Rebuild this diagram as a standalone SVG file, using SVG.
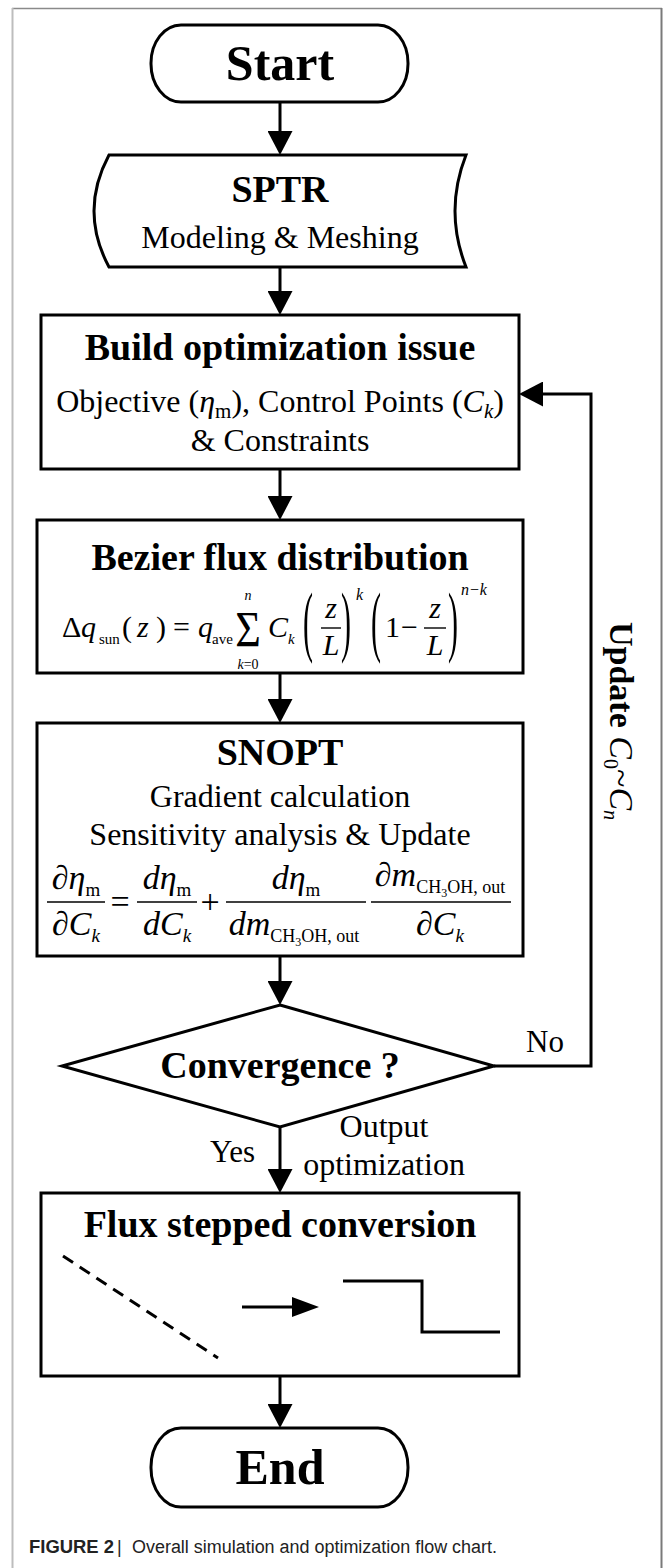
<svg xmlns="http://www.w3.org/2000/svg" width="663" height="1568" viewBox="0 0 663 1568">
  <style>
    .t { font-family: "Liberation Serif", "Times New Roman", serif; fill: #000; }
    .b { font-weight: bold; }
    .i { font-style: italic; }
    .c { text-anchor: middle; }
    .shape { fill: #fff; stroke: #000; stroke-width: 3; }
    .wire { fill: none; stroke: #000; stroke-width: 3; }
    .bar { stroke: #000; stroke-width: 1.4; }
    .cap { font-family: "Liberation Sans Narrow", "Liberation Sans", Arial, sans-serif; fill: #222; font-size: 18px; }
  </style>
  <defs>
    <marker id="ah" viewBox="0 0 24 25" refX="14" refY="12.5" markerWidth="24" markerHeight="25" markerUnits="userSpaceOnUse" orient="auto">
      <path d="M0,0 L24,12.5 L0,25 Z" fill="#000"/>
    </marker>
  </defs>

  <rect width="663" height="1568" fill="#fff"/>

  <!-- page frame -->
  <g id="frame" fill="none">
    <line x1="12" y1="8.5" x2="662" y2="8.5" stroke="#8a8a8a" stroke-width="1.5"/>
    <line x1="12.5" y1="8" x2="12.5" y2="1568" stroke="#bdbdbd" stroke-width="2"/>
    <line x1="661.5" y1="8" x2="661.5" y2="1568" stroke="#7a7a7a" stroke-width="2"/>
  </g>

  <!-- connectors -->
  <g id="connectors" class="wire">
    <path d="M280,102 V145" marker-end="url(#ah)"/>
    <path d="M280,267 V305" marker-end="url(#ah)"/>
    <path d="M280,469 V510" marker-end="url(#ah)"/>
    <path d="M280,673 V713" marker-end="url(#ah)"/>
    <path d="M280,956 V995" marker-end="url(#ah)"/>
    <path d="M280,1127 V1183" marker-end="url(#ah)"/>
    <path d="M280,1376 V1418" marker-end="url(#ah)"/>
    <path d="M494,1066 H591 V394 H529" marker-end="url(#ah)"/>
  </g>

  <!-- start -->
  <g id="start">
    <rect class="shape" x="151" y="25" width="257" height="77" rx="30" ry="38"/>
    <text class="t b c" x="280" y="80" font-size="50">Start</text>
  </g>

  <!-- SPTR model input -->
  <g id="sptr">
    <path class="shape" d="M109,155 L466,155 Q444,211 466,267 L109,267 Q79,211 109,155 Z"/>
    <text class="t b c" x="280" y="202" font-size="38">SPTR</text>
    <text class="t c" x="280" y="248" font-size="32">Modeling &amp; Meshing</text>
  </g>

  <!-- optimization problem setup -->
  <g id="build">
    <rect class="shape" x="41" y="315" width="478" height="154"/>
    <text class="t b c" x="280" y="360" font-size="38">Build optimization issue</text>
    <text class="t c" x="280" y="412" font-size="32">Objective (<tspan class="i">η</tspan><tspan font-size="21" dy="6">m</tspan><tspan dy="-6">), Control Points (</tspan><tspan class="i">C</tspan><tspan class="i" font-size="21" dy="6">k</tspan><tspan dy="-6">)</tspan></text>
    <text class="t c" x="280" y="451" font-size="32">&amp; Constraints</text>
  </g>

  <!-- Bezier flux distribution -->
  <g id="bezier">
    <rect class="shape" x="37" y="520" width="486" height="153"/>
    <text class="t b c" x="280" y="570" font-size="38">Bezier flux distribution</text>
    <g class="t" font-size="30">
      <text x="62" y="637">Δ</text>
      <text class="i" x="81" y="637">q</text>
      <text x="99" y="644" font-size="15">sun</text>
      <text x="122" y="637">(</text>
      <text class="i" x="137" y="637">z</text>
      <text x="156" y="637">)</text>
      <text x="173" y="637">=</text>
      <text class="i" x="198" y="637">q</text>
      <text x="212" y="644" font-size="15">ave</text>
      <text class="c" transform="translate(248,646) scale(1,1.15)" font-size="44">Σ</text>
      <text class="i c" x="248" y="600" font-size="14">n</text>
      <text class="c" x="248" y="669" font-size="14"><tspan class="i">k</tspan>=0</text>
      <text class="i" x="268" y="637">C</text>
      <text class="i" x="288" y="644" font-size="15">k</text>
      <text transform="translate(303,647) scale(1,2.6)">(</text>
      <text class="i c" x="331" y="618">z</text>
      <line class="bar" x1="321" y1="628" x2="341" y2="628"/>
      <text class="i c" x="331" y="655">L</text>
      <text transform="translate(341,647) scale(1,2.6)">)</text>
      <text class="i" x="356" y="600" font-size="16">k</text>
      <text transform="translate(371,647) scale(1,2.6)">(</text>
      <text x="385" y="637">1</text>
      <text x="401" y="637">−</text>
      <text class="i c" x="435" y="618">z</text>
      <line class="bar" x1="424" y1="628" x2="446" y2="628"/>
      <text class="i c" x="435" y="655">L</text>
      <text transform="translate(448,647) scale(1,2.6)">)</text>
      <text class="i" x="461" y="595" font-size="16">n−k</text>
    </g>
  </g>

  <!-- SNOPT solver -->
  <g id="snopt">
    <rect class="shape" x="37" y="723" width="486" height="233"/>
    <text class="t b c" x="280" y="765" font-size="38">SNOPT</text>
    <text class="t c" x="280" y="807" font-size="32">Gradient calculation</text>
    <text class="t c" x="280" y="845" font-size="32">Sensitivity analysis &amp; Update</text>
    <g class="t" font-size="34">
      <text class="c" x="76" y="889"><tspan class="i">∂η</tspan><tspan font-size="19" dy="7">m</tspan></text>
      <line class="bar" x1="47" y1="902" x2="105" y2="902"/>
      <text class="c" x="76" y="935"><tspan class="i">∂C</tspan><tspan class="i" font-size="19" dy="7">k</tspan></text>
      <text class="c" x="120" y="913">=</text>
      <text class="c" x="167" y="889"><tspan class="i">dη</tspan><tspan font-size="19" dy="7">m</tspan></text>
      <line class="bar" x1="137" y1="902" x2="197" y2="902"/>
      <text class="c" x="167" y="935"><tspan class="i">dC</tspan><tspan class="i" font-size="19" dy="7">k</tspan></text>
      <text class="c" x="210" y="913">+</text>
      <text class="c" x="296" y="889"><tspan class="i">dη</tspan><tspan font-size="19" dy="7">m</tspan></text>
      <line class="bar" x1="226" y1="902" x2="366" y2="902"/>
      <text class="c" x="294" y="935"><tspan class="i">dm</tspan><tspan font-size="18" dy="7">CH</tspan><tspan font-size="12" dy="4">3</tspan><tspan font-size="18" dy="-4">OH, out</tspan></text>
      <text class="c" x="440" y="886"><tspan class="i">∂m</tspan><tspan font-size="18" dy="7">CH</tspan><tspan font-size="12" dy="4">3</tspan><tspan font-size="18" dy="-4">OH, out</tspan></text>
      <line class="bar" x1="371" y1="902" x2="511" y2="902"/>
      <text class="c" x="440" y="935"><tspan class="i">∂C</tspan><tspan class="i" font-size="19" dy="7">k</tspan></text>
    </g>
  </g>

  <!-- convergence decision -->
  <g id="convergence">
    <polygon class="shape" points="280,1005 494,1066 280,1127 62,1066"/>
    <text class="t b c" x="280" y="1078" font-size="38">Convergence ?</text>
    <text class="t" x="526" y="1052" font-size="31">No</text>
    <text class="t" x="210" y="1162" font-size="31">Yes</text>
    <text class="t c" x="384" y="1137" font-size="32">Output</text>
    <text class="t c" x="384" y="1175" font-size="32">optimization</text>
  </g>

  <!-- loop label -->
  <g id="update-label">
    <text class="t" transform="translate(610,622) rotate(90)" font-size="34"><tspan class="b">Update </tspan><tspan class="i">C</tspan><tspan font-size="20" dy="6">0</tspan><tspan dy="-6">~</tspan><tspan class="i">C</tspan><tspan class="i" font-size="20" dy="6">n</tspan></text>
  </g>

  <!-- stepped flux conversion -->
  <g id="flux">
    <rect class="shape" x="41" y="1193" width="478" height="183"/>
    <text class="t b c" x="280" y="1237" font-size="38">Flux stepped conversion</text>
    <line x1="63" y1="1256" x2="218" y2="1358" stroke="#000" stroke-width="3" stroke-dasharray="12,8"/>
    <line x1="242" y1="1307" x2="295" y2="1307" stroke="#000" stroke-width="3"/>
    <polygon points="292,1297 319,1307 292,1317" fill="#000"/>
    <polyline class="wire" points="343,1281 422,1281 422,1332 500,1332"/>
  </g>

  <!-- end -->
  <g id="end">
    <rect class="shape" x="151" y="1428" width="257" height="79" rx="30" ry="39"/>
    <text class="t b c" x="280" y="1484" font-size="50">End</text>
  </g>

  <!-- caption -->
  <g id="caption">
    <text class="cap" x="29" y="1553" font-weight="bold" textLength="85" lengthAdjust="spacingAndGlyphs">FIGURE 2</text>
    <text class="cap" x="117" y="1553">|</text>
    <text class="cap" x="132" y="1553" textLength="365" lengthAdjust="spacingAndGlyphs">Overall simulation and optimization flow chart.</text>
  </g>
</svg>
